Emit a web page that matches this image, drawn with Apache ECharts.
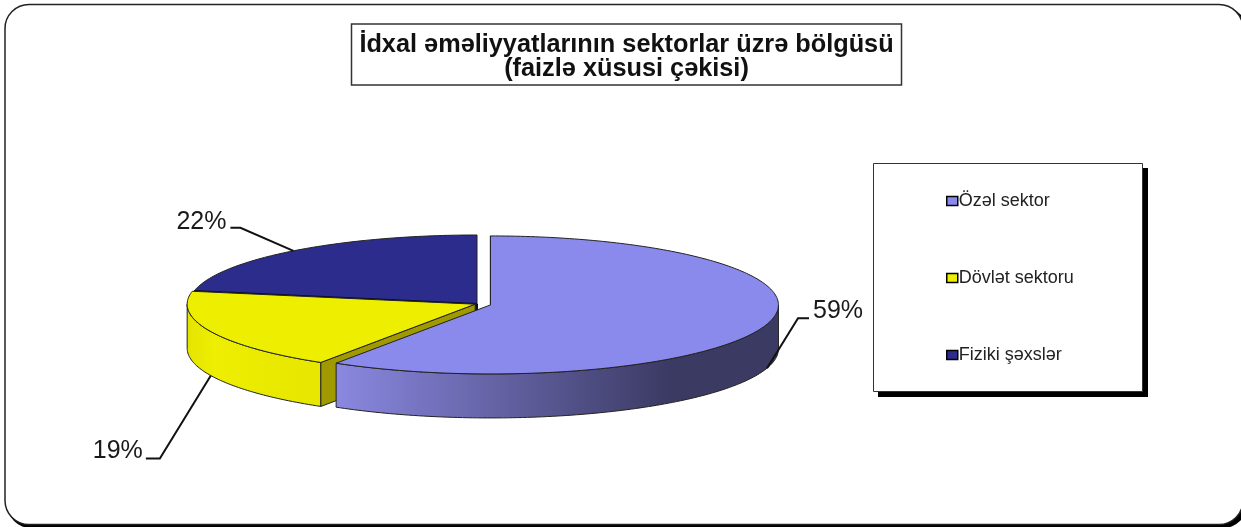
<!DOCTYPE html>
<html>
<head>
<meta charset="utf-8">
<style>
  html, body { margin: 0; padding: 0; background: #fff; }
  #chart { width: 1241px; height: 527px; }
</style>
<script src="https://cdn.jsdelivr.net/npm/echarts@6/dist/echarts.min.js"></script>
</head>
<body>
<div id="chart"></div>
<script>
const names = ["Özəl sektor", "Dövlət sektoru", "Fiziki şəxslər"];
const shares = [59, 19, 22];
const titleLines = ["İdxal əməliyyatlarının sektorlar üzrə bölgüsü", "(faizlə xüsusi çəkisi)"];

const topColors = ["#8a8aec", "#eeee00", "#2c2c8c"];
const wallColors = ["#3b3a63", "#a09a00", "#14143c"];
const sideColors = [
  [[0, "#8a88e0"], [1, "#3b3a63"]],
  [[0, "#e4e400"], [0.2, "#eeee00"], [1, "#e6e600"]],
  [[0, "#14143c"], [1, "#14143c"]]
];

// pie geometry in pixels
const cx = 477, cy = 304, rx = 288, ry = 69, depth = 44;
const explode = [14, 2, 0];
// leader line elbows relative to the rim point, then the end of the line
const leader = [
  { elbow: [31, -50], end: [42, -50], textAlign: "left", text: [46, -57] },
  { elbow: [-51, 83], end: [-65, 83], textAlign: "right", text: [-68, 76] },
  { elbow: [-53, -23], end: [-63, -23], textAlign: "right", text: [-67, -29] }
];

const total = shares.reduce((a, b) => a + b, 0);

function pt(deg, ox, oy) {
  const a = deg * Math.PI / 180;
  return [ox + rx * Math.sin(a), oy - ry * Math.cos(a)];
}

function arc(from, to, ox, oy) {
  const out = [];
  const n = Math.max(2, Math.ceil(Math.abs(to - from)));
  for (let i = 0; i <= n; i++) {
    out.push(pt(from + (to - from) * i / n, ox, oy));
  }
  return out;
}

function sliceItem(params, api) {
  const i = params.seriesIndex;
  const before = shares.slice(0, i).reduce((a, b) => a + b, 0);
  const start = before / total * 360;
  const end = start + api.value(0) / total * 360;
  const mid = (start + end) / 2;
  const rad = mid * Math.PI / 180;
  const ox = cx + explode[i] * Math.sin(rad);
  const oy = cy - explode[i] * Math.cos(rad) * ry / rx;
  const children = [];
  const edge = { stroke: "#222", lineWidth: 1, lineJoin: "round" };

  // outer wall, only the front half of the ellipse shows
  const f = Math.max(start, 90), t = Math.min(end, 270);
  if (f < t) {
    const rim = arc(f, t, ox, oy);
    const low = rim.map(p => [p[0], p[1] + depth]).reverse();
    const xs = rim.map(p => p[0]);
    children.push({
      type: "polygon",
      shape: { points: rim.concat(low) },
      style: Object.assign({
        fill: new echarts.graphic.LinearGradient(
          Math.min(...xs), 0, i === 0 ? 670 : Math.max(...xs), 0,
          sideColors[i].map(s => ({ offset: s[0], color: s[1] })), true)
      }, edge)
    });
  }

  // inner cut wall facing the viewer
  const cut = pt(start, ox, oy);
  children.push({
    type: "polygon",
    shape: { points: [[ox, oy], cut, [cut[0], cut[1] + depth], [ox, oy + depth]] },
    style: Object.assign({ fill: wallColors[i] }, edge)
  });
  if (i === 2) {
    children.push({
      type: "line",
      shape: { x1: cx, y1: cy, x2: cx, y2: cy + depth },
      style: { stroke: "#111", lineWidth: 2 }
    });
  }

  // top face
  children.push({
    type: "polygon",
    shape: { points: [[ox, oy]].concat(arc(start, end, ox, oy)) },
    style: { fill: topColors[i], stroke: "#222", lineWidth: 1, lineJoin: "round" }
  });
  if (i === 2) {
    // dark seam where this slice meets the yellow one
    const seam = pt(start, ox, oy);
    children.push({
      type: "line",
      shape: { x1: ox, y1: oy, x2: seam[0], y2: seam[1] },
      style: { stroke: "#0c0c30", lineWidth: 2 }
    });
  }

  // leader line and percent label
  const anchor = pt(mid, ox, oy);
  if (mid > 90 && mid < 270) anchor[1] += depth;
  const l = leader[i];
  children.push({
    type: "polyline",
    shape: { points: [anchor, [anchor[0] + l.elbow[0], anchor[1] + l.elbow[1]], [anchor[0] + l.end[0], anchor[1] + l.end[1]]] },
    style: { stroke: "#111", lineWidth: 2, fill: null }
  });
  children.push({
    type: "text",
    style: {
      x: anchor[0] + l.text[0], y: anchor[1] + l.text[1],
      text: api.value(0) + "%",
      font: '25px "Liberation Sans"',
      fill: "#1a1a1a", align: l.textAlign, verticalAlign: "middle"
    }
  });
  return { type: "group", children: children };
}

const myChart = echarts.init(document.getElementById("chart"), null, { renderer: "canvas" });
myChart.setOption({
  animation: false,
  backgroundColor: "#fff",
  title: {
    text: titleLines.join("\n"),
    left: 618.5, top: 24,
    textAlign: "center",
    padding: [9, 8, 4, 8],
    borderColor: "#333", borderWidth: 1.5, backgroundColor: "#fff",
    textStyle: {
      fontFamily: "Liberation Sans", fontSize: 25.3, fontWeight: "bold",
      color: "#111", lineHeight: 24
    }
  },
  legend: {
    orient: "vertical",
    left: 941, top: 187,
    selectedMode: false,
    data: names,
    icon: "rect",
    itemWidth: 11, itemHeight: 9, itemGap: 59,
    itemStyle: { borderColor: "#000", borderWidth: 1.5 },
    textStyle: { fontFamily: "Liberation Sans", fontSize: 18, color: "#222", padding: [0, 0, 0, -4] }
  },
  graphic: [
    // rounded frame of the slide, runs off the right edge, heavier at the bottom
    { type: "rect", z: 0, shape: { x: 7, y: 7, width: 1240, height: 521, r: 24 }, style: { fill: "#000" } },
    { type: "rect", z: 0, shape: { x: 5, y: 4.5, width: 1238, height: 520, r: 24 }, style: { fill: "#fff", stroke: "#222", lineWidth: 1.5 } },
    // legend box with hard shadow
    { type: "rect", z: 1, shape: { x: 878, y: 168, width: 270, height: 229 }, style: { fill: "#000" } },
    { type: "rect", z: 1, shape: { x: 873.5, y: 163.5, width: 269, height: 228 }, style: { fill: "#fff", stroke: "#333", lineWidth: 1 } }
  ],
  series: names.map((name, i) => ({
    name: name,
    type: "custom",
    coordinateSystem: "none",
    z: 4 - i,
    silent: true,
    itemStyle: { color: topColors[i] },
    renderItem: sliceItem,
    data: [[shares[i]]]
  }))
});
</script>
</body>
</html>
